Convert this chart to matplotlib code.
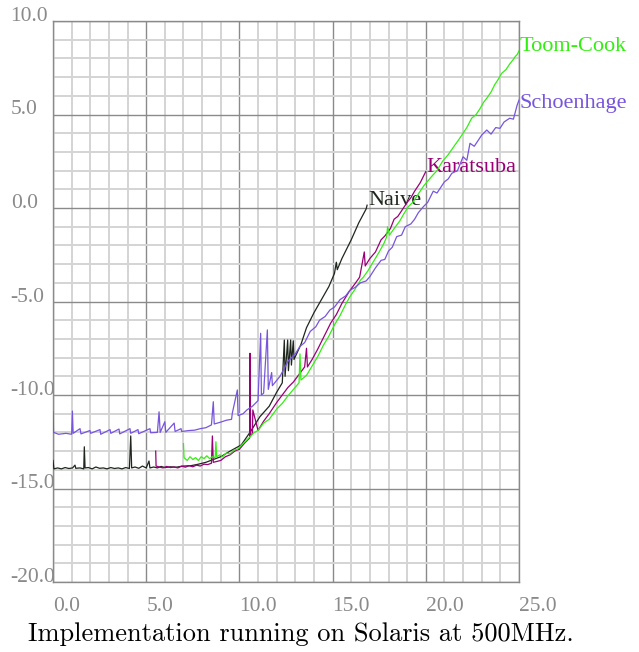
import matplotlib
matplotlib.use("Agg")
import matplotlib.pyplot as plt
from matplotlib.ticker import MultipleLocator

# Naive
naive_x = [0.0, 0.05, 0.25, 0.45, 0.65, 0.85, 1.05, 1.18, 1.22, 1.45, 1.65, 1.68, 1.72,
           1.9, 2.1, 2.3, 2.5, 2.7, 2.9, 3.1, 3.3, 3.5, 3.7, 3.9, 4.1, 4.17, 4.22, 4.4,
           4.6, 4.8, 5.0, 5.15, 5.2, 5.4, 5.6, 5.8, 6.0, 6.3, 6.6, 7.0, 7.4, 7.8, 8.2,
           8.6, 9.0, 9.5, 10.1, 10.6, 11.1, 11.6, 12.0, 12.3, 12.41, 12.45, 12.59, 12.63,
           12.75, 12.79, 12.89, 12.93, 13.3, 13.6, 14.0, 14.4, 14.8, 15.1, 15.2, 15.25,
           15.5, 16.0, 16.4, 16.8, 16.85]
naive_y = [-13.5, -13.95, -13.9, -13.95, -13.88, -13.93, -13.9, -13.75, -13.92, -13.9,
           -13.95, -12.77, -13.9, -13.88, -13.95, -13.85, -13.92, -13.9, -13.95, -13.88,
           -13.93, -13.9, -13.95, -13.88, -13.93, -12.19, -13.9, -13.85, -13.92, -13.8,
           -13.9, -13.53, -13.9, -13.85, -13.9, -13.82, -13.88, -13.84, -13.86, -13.8,
           -13.78, -13.7, -13.6, -13.45, -13.3, -13.0, -12.67, -11.95, -11.16, -10.6,
           -9.85, -9.35, -7.06, -9.0, -7.06, -8.7, -7.06, -8.4, -7.1, -8.1, -7.3, -6.4,
           -5.6, -4.9, -4.2, -3.5, -2.9, -3.3, -2.7, -1.7, -0.8, -0.05, 0.15]

# Karatsuba
kara_x = [5.51, 5.53, 5.7, 5.9, 6.1, 6.3, 6.5, 6.7, 6.9, 7.1, 7.3, 7.5, 7.7, 7.9, 8.1,
          8.3, 8.5, 8.55, 8.6, 8.8, 9.0, 9.25, 9.5, 9.75, 10.0, 10.3, 10.55, 10.57, 10.6,
          10.7, 10.72, 11.0, 11.3, 11.6, 12.0, 12.3, 12.6, 12.9, 13.2, 13.5, 13.6, 13.65,
          13.9, 14.2, 14.5, 14.9, 15.2, 15.5, 15.9, 16.2, 16.45, 16.7, 16.75, 17.0, 17.3,
          17.6, 17.8, 18.1, 18.3, 18.5, 18.8, 19.0, 19.2, 19.4, 19.7, 20.0]
kara_y = [-13.0, -13.8, -13.85, -13.9, -13.82, -13.88, -13.85, -13.9, -13.8, -13.86,
          -13.78, -13.84, -13.75, -13.8, -13.7, -13.72, -13.65, -12.19, -13.6, -13.55,
          -13.5, -13.3, -13.2, -13.0, -12.9, -12.55, -12.3, -7.77, -12.2, -12.05, -10.8,
          -11.9, -11.4, -11.0, -10.4, -10.0, -9.6, -9.3, -8.9, -8.5, -7.5, -8.5, -8.1,
          -7.55, -6.95, -6.15, -5.7, -5.1, -4.45, -4.05, -3.7, -2.35, -3.1, -2.7, -2.35,
          -1.7, -1.5, -1.1, -0.6, -0.45, 0.0, 0.3, 0.55, 0.9, 1.35, 1.95]

# Toom-Cook
toom_x = [7.0, 7.03, 7.2, 7.35, 7.5, 7.65, 7.8, 7.95, 8.1, 8.25, 8.4, 8.55, 8.7, 8.74,
          8.78, 8.95, 9.1, 9.3, 9.5, 9.7, 9.9, 10.1, 10.5, 10.8, 11.0, 11.3, 11.6, 12.0,
          12.3, 12.6, 12.9, 13.2, 13.25, 13.3, 13.6, 13.9, 14.2, 14.5, 14.8, 15.1, 15.4,
          15.7, 15.93, 16.2, 16.5, 16.65, 16.9, 17.2, 17.5, 17.75, 17.9, 17.95, 18.05,
          18.3, 18.6, 18.8, 19.06, 19.3, 19.6, 19.9, 20.3, 20.6, 20.9, 21.2, 21.5, 21.8,
          22.0, 22.2, 22.46, 22.7, 22.9, 23.1, 23.27, 23.5, 23.7, 23.9, 24.07, 24.3, 24.5,
          24.7, 24.8, 24.9, 25.0]
toom_y = [-12.6, -13.35, -13.5, -13.3, -13.45, -13.35, -13.5, -13.3, -13.4, -13.25,
          -13.4, -13.3, -13.35, -12.5, -13.3, -13.2, -13.3, -13.1, -13.15, -12.95, -12.9,
          -12.7, -12.3, -12.0, -11.9, -11.5, -11.3, -10.75, -10.45, -10.05, -9.7, -9.35,
          -7.8, -9.2, -8.95, -8.45, -7.95, -7.35, -6.85, -6.25, -5.75, -5.15, -4.74,
          -4.35, -3.85, -3.7, -3.35, -2.85, -2.35, -1.9, -1.55, -1.0, -1.45, -1.1, -0.7,
          -0.35, 0.07, 0.3, 0.75, 1.2, 1.67, 2.0, 2.5, 2.85, 3.28, 3.7, 4.0, 4.3, 4.8,
          5.0, 5.3, 5.65, 5.87, 6.2, 6.6, 6.9, 7.2, 7.4, 7.7, 7.95, 8.1, 8.2, 8.4]

# Schoenhage
scho_x = [0.0, 0.03, 0.3, 0.7, 1.0, 1.04, 1.08, 1.45, 1.5, 1.98, 2.02, 2.52, 2.56, 3.06,
          3.1, 3.54, 3.58, 4.13, 4.17, 4.56, 4.6, 5.2, 5.24, 5.6, 5.69, 5.75, 6.0, 6.05,
          6.5, 6.55, 6.87, 6.9, 7.3, 7.6, 7.9, 8.2, 8.5, 8.6, 8.65, 9.0, 9.3, 9.58, 9.62,
          9.89, 9.93, 10.2, 10.4, 10.7, 11.0, 11.14, 11.18, 11.3, 11.5, 11.55, 11.73,
          11.77, 12.18, 12.6, 13.0, 13.25, 13.5, 13.8, 14.1, 14.3, 14.6, 14.86, 15.1,
          15.4, 15.7, 15.93, 16.2, 16.5, 16.8, 17.0, 17.3, 17.6, 17.8, 18.0, 18.2, 18.44,
          18.7, 18.9, 19.2, 19.4, 19.6, 19.87, 20.1, 20.4, 20.6, 21.0, 21.2, 21.4, 21.7,
          22.0, 22.2, 22.37, 22.6, 23.0, 23.27, 23.5, 23.75, 23.98, 24.2, 24.5, 24.7,
          24.9, 25.0]
scho_y = [-10.9, -12.0, -12.1, -12.05, -12.1, -10.86, -12.05, -11.8, -12.08, -11.9,
          -12.05, -11.85, -12.1, -11.85, -12.05, -11.82, -12.08, -11.8, -12.05, -11.85,
          -12.07, -11.8, -12.02, -12.0, -10.9, -12.0, -11.43, -12.0, -11.5, -11.95, -11.8,
          -11.95, -11.9, -11.88, -11.8, -11.75, -11.6, -10.36, -11.55, -11.45, -11.35,
          -11.3, -10.97, -9.73, -11.1, -11.0, -10.8, -10.6, -10.3, -6.7, -10.0, -9.9,
          -6.52, -9.7, -8.8, -9.5, -9.0, -8.2, -7.8, -7.4, -7.2, -6.6, -6.35, -6.0, -5.8,
          -5.45, -5.3, -4.9, -4.7, -4.4, -4.25, -4.0, -3.9, -3.67, -3.2, -2.8, -2.75,
          -2.3, -2.1, -1.53, -1.45, -1.0, -0.85, -0.6, -0.25, 0.07, 0.3, 0.9, 0.8, 1.4,
          1.55, 1.86, 2.0, 2.74, 2.55, 3.46, 3.3, 3.9, 4.17, 3.95, 4.3, 4.26, 4.6, 4.8,
          4.75, 5.5, 5.77]

series = [
    ("Naive", naive_x, naive_y, "#1e261e"),
    ("Karatsuba", kara_x, kara_y, "#990077"),
    ("Toom-Cook", toom_x, toom_y, "#33ee11"),
    ("Schoenhage", scho_x, scho_y, "#7755dd"),
]
# posicao vertical dos rotulos (linha de base)
label_y = {"Naive": 0.15, "Karatsuba": 1.9, "Toom-Cook": 8.4, "Schoenhage": 5.35}

fig = plt.figure(figsize=(6.39, 6.52), dpi=100)
ax = fig.add_axes([53 / 639, 1 - 582 / 652, 466 / 639, 561 / 652])

for nome, xs, ys, cor in series:
    ax.plot(xs, ys, color=cor, lw=0.9, zorder=3)
    ax.text(xs[-1] + 0.05, label_y[nome], nome, color=cor, fontsize=16,
            family="Liberation Serif", ha="left", va="baseline", clip_on=False)

ax.set_xlim(0, 25)
ax.set_ylim(-20, 10)
ax.xaxis.set_major_locator(MultipleLocator(5))
ax.yaxis.set_major_locator(MultipleLocator(5))
ax.xaxis.set_minor_locator(MultipleLocator(1))
ax.yaxis.set_minor_locator(MultipleLocator(1))
ax.grid(which="minor", color="#d4d4d4", lw=1.4, zorder=0)
ax.grid(which="major", color="#8a8a8a", lw=1.0, zorder=1)
ax.set_axisbelow(True)
for s in ax.spines.values():
    s.set_color("#8a8a8a")
    s.set_linewidth(1.0)

ax.tick_params(which="both", length=0)
ax.tick_params(axis="x", pad=20.9)
ax.tick_params(axis="y", pad=30.5)
ax.set_xticklabels(["%.1f" % v for v in ax.get_xticks()])
ax.set_yticklabels(["%.1f" % v for v in ax.get_yticks()])
for lb in ax.get_xticklabels() + ax.get_yticklabels():
    lb.set_ha("left")
    lb.set_va("baseline")
    lb.set_fontsize(15.5)
    lb.set_family("Liberation Serif")
    lb.set_color("#8a8a8a")

fig.text(300.5 / 639, 1 - 641 / 652, "Implementation running on Solaris at 500MHz.",
         family="cmr10", fontsize=19, ha="center", va="baseline")

fig.savefig("out.png", dpi=100)
